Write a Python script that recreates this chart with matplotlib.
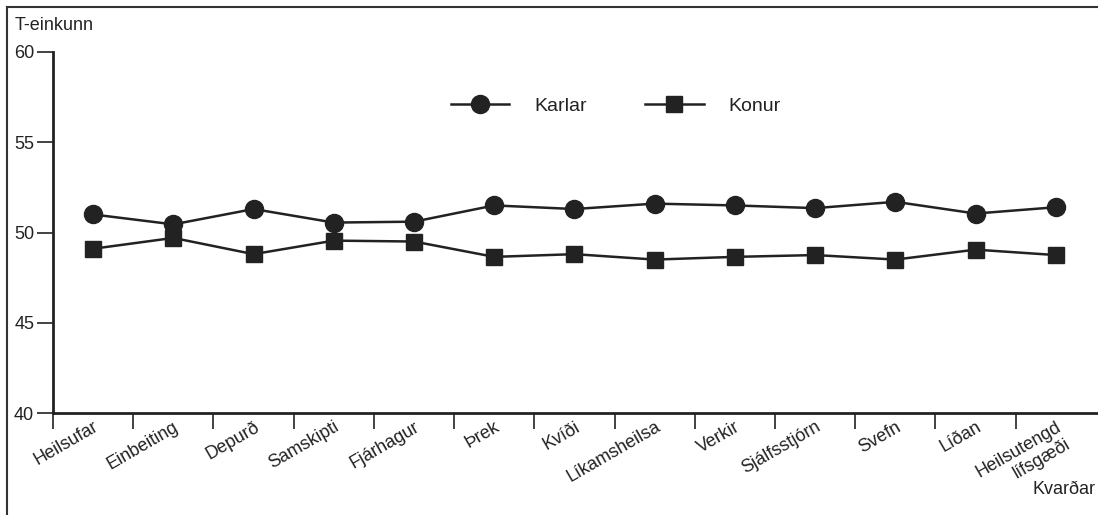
import matplotlib
matplotlib.use("Agg")
import matplotlib.pyplot as plt
from matplotlib.lines import Line2D

categories = ["Heilsufar", "Einbeiting", "Depurð", "Samskipti", "Fjárhagur", "Þrek",
              "Kvíði", "Líkamsheilsa", "Verkir", "Sjálfsstjórn", "Svefn", "Líðan",
              "Heilsutengd\nlífsgæði"]
karlar = [51.0, 50.45, 51.3, 50.55, 50.6, 51.5, 51.3, 51.6, 51.5, 51.35, 51.7, 51.05, 51.4]
konur = [49.1, 49.7, 48.8, 49.55, 49.5, 48.65, 48.8, 48.5, 48.65, 48.75, 48.5, 49.05, 48.75]
yticks = [40, 45, 50, 55, 60]

plt.rcParams['font.family'] = ['Liberation Sans', 'DejaVu Sans']
col = '#222222'

fig = plt.figure(figsize=(10.98, 5.15), dpi=100)
ax = fig.add_axes([53/1098, 1 - 413/515, 1 - 53/1098 + 0.01, (413 - 52)/515])

x = list(range(len(categories)))
ax.plot(x, karlar, color=col, lw=1.8, marker='o', ms=13, label='Karlar', clip_on=False)
ax.plot(x, konur, color=col, lw=1.8, marker='s', ms=12, label='Konur', clip_on=False)

ax.set_ylim(40, 60)
ax.set_xlim(-0.5, -0.5 + (1098 - 53) / 80 + 0.1)
ax.set_yticks(yticks)
ax.set_yticklabels([str(v) for v in yticks], fontsize=13)
ax.set_xticks([i - 0.5 for i in x])
ax.set_xticklabels([])
ax.set_xticks(x, minor=True)
ax.set_xticklabels(categories, minor=True, rotation=30, ha='right', va='top',
                   rotation_mode='anchor', fontsize=13, linespacing=1.15)
ax.tick_params(axis='x', which='minor', length=0, pad=4)
ax.tick_params(axis='x', which='major', length=11.5, width=1.2, color=col)
ax.tick_params(axis='y', length=11.5, width=1.2, color=col, pad=2)
for lab in ax.get_xticklabels(minor=True):
    lab.set_color(col)
    lab.set_x(lab.get_position()[0])
for lab in ax.get_yticklabels():
    lab.set_color(col)

for s in ['top', 'right']:
    ax.spines[s].set_visible(False)
for s in ['left', 'bottom']:
    ax.spines[s].set_linewidth(2)
    ax.spines[s].set_color(col)

leg = ax.legend(loc='center', bbox_to_anchor=((610 - 53)/1045, (413 - 106)/361),
                bbox_transform=ax.transAxes, ncol=2, frameon=False, fontsize=14,
                handlelength=3.0, handletextpad=1.3, columnspacing=3.0)
for t in leg.get_texts():
    t.set_color(col)

fig.text(15/1098, 1 - 25/515, "T-einkunn", fontsize=13, color=col, va='center', ha='left')
fig.text(1096/1098, 1 - 490/515, "Kvarðar", fontsize=13, color=col, va='center', ha='right')

fig.add_artist(Line2D([7/1098, 7/1098], [0, 1 - 7/515], transform=fig.transFigure, color='#333333', lw=1.5))
fig.add_artist(Line2D([7/1098, 1], [1 - 7/515, 1 - 7/515], transform=fig.transFigure, color='#333333', lw=1.5))

fig.savefig("out.png", dpi=100)
